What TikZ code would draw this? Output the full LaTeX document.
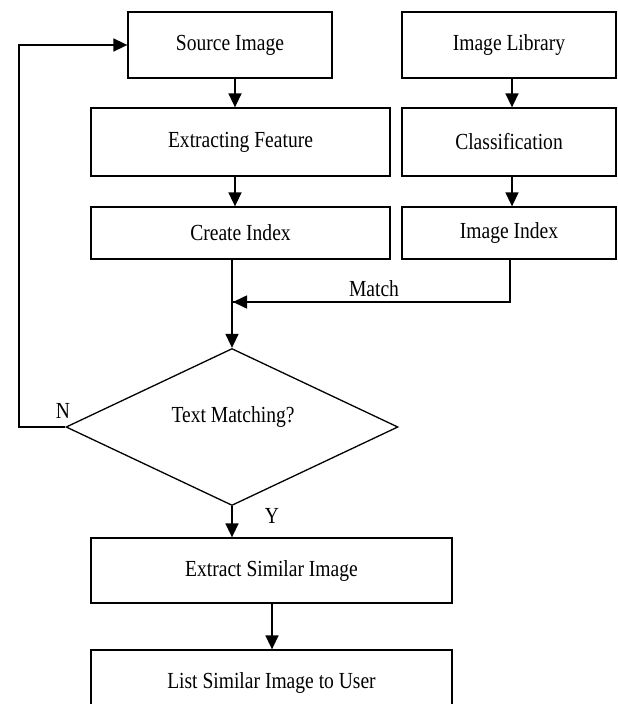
\documentclass[tikz,border=0pt]{standalone}
\usepackage{fontspec}
\setmainfont{Liberation Serif}[FakeStretch=0.85]
\usetikzlibrary{arrows.meta,shapes.geometric,calc}
\begin{document}
\begin{tikzpicture}[x=1pt,y=1pt,
  every node/.style={font=\fontsize{23}{26}\selectfont},
  box/.style={draw=black,line width=1.3pt,rectangle,inner sep=0pt,anchor=center},
  arr/.style={line width=1.6pt,-{Triangle[width=13pt,length=14pt]}},
  ln/.style={line width=1.6pt},
  lbl/.style={inner sep=0pt}]
\useasboundingbox (0,0) rectangle (618,-704);
\node[box,minimum width=204pt,minimum height=66pt] (src) at (230,-45) {Source Image};
\node[box,minimum width=214pt,minimum height=66pt] (lib) at (509,-45) {Image Library};
\node[box,minimum width=299pt,minimum height=68pt] (ext) at (240.5,-142) {Extracting Feature};
\node[box,minimum width=214pt,minimum height=68pt] (cls) at (509,-142) {Classification};
\node[box,minimum width=299pt,minimum height=52pt] (cri) at (240.5,-233) {Create Index};
\node[box,minimum width=214pt,minimum height=52pt] (iix) at (509,-233) {Image Index};
\node[draw=black,line width=1.3pt,diamond,shape aspect=2.1,inner sep=0pt,
      minimum width=332pt,minimum height=157pt] (dia) at (232,-427) {};
\node[lbl] (dtx) at (233,-417) {Text Matching?};
\node[box,minimum width=361pt,minimum height=65pt] (esi) at (271.5,-570.5) {Extract Similar Image};
\node[box,minimum width=361pt,minimum height=66pt] (lsu) at (271.5,-683) {List Similar Image to User};
\node[lbl] (mlab) at (374,-289) {Match};
\node[lbl] (nlab) at (63,-411) {N};
\node[lbl] (ylab) at (272,-516) {Y};
\coordinate (mj) at (232,-302);
\coordinate (lp) at (19,-427);
\draw[arr] ([xshift=5pt]src.south) -- ([xshift=-5.5pt]ext.north);
\draw[arr] ([xshift=3pt]lib.south) -- ([xshift=3pt]cls.north);
\draw[arr] ([xshift=-5.5pt]ext.south) -- ([xshift=-5.5pt]cri.north);
\draw[arr] ([xshift=3pt]cls.south) -- ([xshift=3pt]iix.north);
\draw[ln] ([xshift=1pt]iix.south) |- (mj);
\draw[arr] ([xshift=1pt]iix.south |- mj) -- ([xshift=1pt]mj);
\draw[arr] ([xshift=-8.5pt]cri.south) -- (dia.north);
\draw[arr] (dia.west) -- (lp) |- (src.west);
\draw[arr] (dia.south) -- (dia.south |- esi.north);
\draw[arr] ([xshift=0.5pt]esi.south) -- ([xshift=0.5pt]lsu.north);
\end{tikzpicture}
\end{document}
